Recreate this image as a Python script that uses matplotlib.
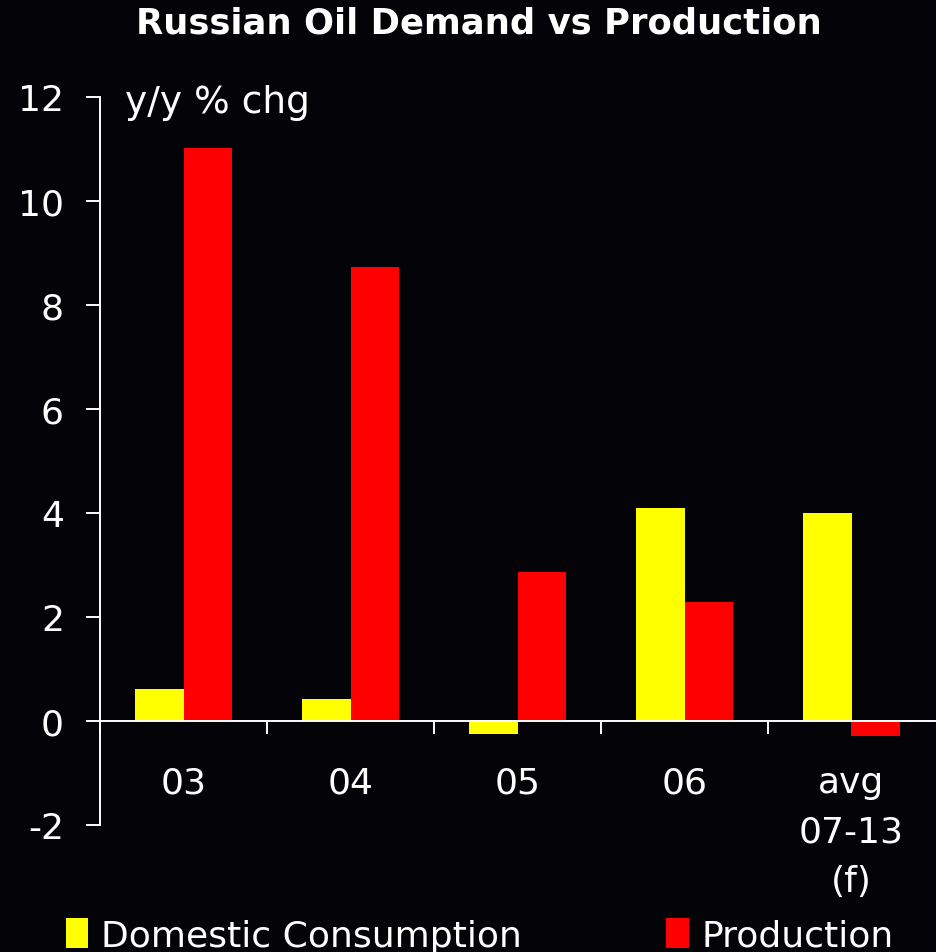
import matplotlib
matplotlib.use("Agg")
from matplotlib import pyplot as plt
from matplotlib.patches import Patch
import numpy as np

# Dados
categorias = ["03", "04", "05", "06", "avg\n07-13\n(f)"]
consumo = [0.61, 0.42, -0.25, 4.09, 3.99]
producao = [11.01, 8.72, 2.86, 2.28, -0.29]
y_ticks = [-2, 0, 2, 4, 6, 8, 10, 12]

fundo = "#030308"
amarelo = "#ffff00"
vermelho = "#ff0000"

plt.rcParams["font.family"] = "DejaVu Sans"
plt.rcParams["axes.unicode_minus"] = False

fig = plt.figure(figsize=(9.36, 9.53), dpi=100, facecolor=fundo)
ax = fig.add_axes([100 / 936, 1 - 825.7 / 953, 835 / 936, (825.7 - 97.7) / 953])
ax.set_facecolor(fundo)

x = np.arange(len(categorias))
largura = 0.29
ax.bar(x - largura / 2, consumo, width=largura, color=amarelo, zorder=2)
ax.bar(x + largura / 2, producao, width=largura, color=vermelho, zorder=2)

ax.set_xlim(-0.5, len(categorias) - 0.5)
ax.set_ylim(-2, 12)

# Eixos
for lado in ["top", "right"]:
    ax.spines[lado].set_visible(False)
ax.spines["left"].set_color("white")
ax.spines["left"].set_linewidth(1.4)
ax.spines["bottom"].set_position(("data", 0))
ax.spines["bottom"].set_color("white")
ax.spines["bottom"].set_linewidth(1.4)
ax.spines["bottom"].set_zorder(3)

ax.set_yticks(y_ticks)
ax.tick_params(axis="y", colors="white", labelsize=26, length=10, width=1.4, pad=16)

ax.set_xticks(x)
ax.set_xticklabels(categorias)
ax.set_xticks(np.arange(len(categorias)) - 0.5, minor=True)
ax.tick_params(axis="x", which="major", length=0, colors="white", labelsize=26, pad=32)
ax.tick_params(axis="x", which="minor", length=9.5, width=1.4, color="white")
for rotulo in ax.get_xticklabels():
    rotulo.set_linespacing(1.58)
    rotulo.set_verticalalignment("top")

ax.text(0.03, 0.993, "y/y % chg", transform=ax.transAxes, color="white",
        fontsize=27, va="center", ha="left")

fig.text(0.512, 0.975, "Russian Oil Demand vs Production", color="white",
         fontsize=25.5, fontweight="bold", ha="center", va="center")

# Legenda
handles = [Patch(facecolor=amarelo), Patch(facecolor=vermelho)]
fig.legend(handles, ["Domestic Consumption", "Production"], ncol=2,
           loc="lower left", bbox_to_anchor=(0.055, -0.016), frameon=False,
           fontsize=26, labelcolor="white", handlelength=0.62, handleheight=0.9,
           handletextpad=0.35, columnspacing=4.0, borderaxespad=0)

fig.savefig("out.png", dpi=100, facecolor=fundo)
